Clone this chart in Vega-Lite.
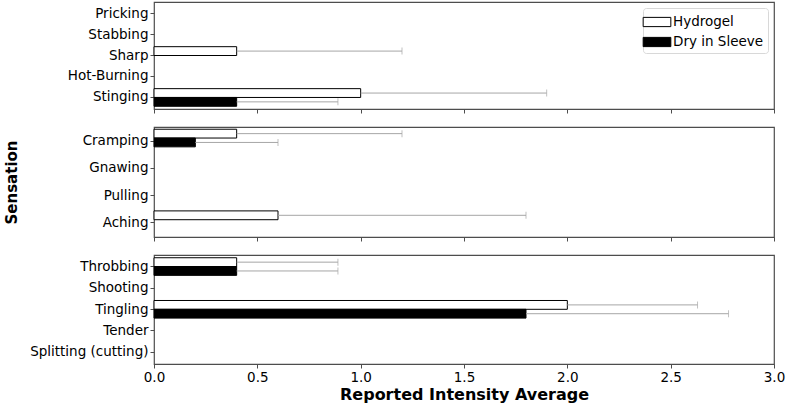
{
  "$schema": "https://vega.github.io/schema/vega-lite/v6.json",
  "padding": {"left": 3, "top": 1, "right": 10, "bottom": 4},
  "background": "white",
  "bounds": "flush",
  "spacing": 18,
  "config": {
    "font": "DejaVu Sans",
    "view": {"stroke": "#4d4d4d", "strokeWidth": 1.2},
    "axis": {
      "grid": false,
      "domain": false,
      "tickColor": "#4d4d4d",
      "tickSize": 4,
      "labelColor": "black",
      "labelFontSize": 13.5,
      "labelPadding": 2,
      "labelFlush": false,
      "titleColor": "black",
      "titleFontWeight": "bold",
      "titleFontSize": 15
    }
  },
  "datasets": {
    "d": [
      {"panel": 1, "sensation": "Pricking", "series": "Hydrogel", "value": 0, "upper": null},
      {"panel": 1, "sensation": "Pricking", "series": "Dry in Sleeve", "value": 0, "upper": null},
      {"panel": 1, "sensation": "Stabbing", "series": "Hydrogel", "value": 0, "upper": null},
      {"panel": 1, "sensation": "Stabbing", "series": "Dry in Sleeve", "value": 0, "upper": null},
      {"panel": 1, "sensation": "Sharp", "series": "Hydrogel", "value": 0.4, "upper": 1.2},
      {"panel": 1, "sensation": "Sharp", "series": "Dry in Sleeve", "value": 0, "upper": null},
      {"panel": 1, "sensation": "Hot-Burning", "series": "Hydrogel", "value": 0, "upper": null},
      {"panel": 1, "sensation": "Hot-Burning", "series": "Dry in Sleeve", "value": 0, "upper": null},
      {"panel": 1, "sensation": "Stinging", "series": "Hydrogel", "value": 1.0, "upper": 1.9},
      {"panel": 1, "sensation": "Stinging", "series": "Dry in Sleeve", "value": 0.4, "upper": 0.89},
      {"panel": 2, "sensation": "Cramping", "series": "Hydrogel", "value": 0.4, "upper": 1.2},
      {"panel": 2, "sensation": "Cramping", "series": "Dry in Sleeve", "value": 0.2, "upper": 0.6},
      {"panel": 2, "sensation": "Gnawing", "series": "Hydrogel", "value": 0, "upper": null},
      {"panel": 2, "sensation": "Gnawing", "series": "Dry in Sleeve", "value": 0, "upper": null},
      {"panel": 2, "sensation": "Pulling", "series": "Hydrogel", "value": 0, "upper": null},
      {"panel": 2, "sensation": "Pulling", "series": "Dry in Sleeve", "value": 0, "upper": null},
      {"panel": 2, "sensation": "Aching", "series": "Hydrogel", "value": 0.6, "upper": 1.8},
      {"panel": 2, "sensation": "Aching", "series": "Dry in Sleeve", "value": 0, "upper": null},
      {"panel": 3, "sensation": "Throbbing", "series": "Hydrogel", "value": 0.4, "upper": 0.89},
      {"panel": 3, "sensation": "Throbbing", "series": "Dry in Sleeve", "value": 0.4, "upper": 0.89},
      {"panel": 3, "sensation": "Shooting", "series": "Hydrogel", "value": 0, "upper": null},
      {"panel": 3, "sensation": "Shooting", "series": "Dry in Sleeve", "value": 0, "upper": null},
      {"panel": 3, "sensation": "Tingling", "series": "Hydrogel", "value": 2.0, "upper": 2.63},
      {"panel": 3, "sensation": "Tingling", "series": "Dry in Sleeve", "value": 1.8, "upper": 2.78},
      {"panel": 3, "sensation": "Tender", "series": "Hydrogel", "value": 0, "upper": null},
      {"panel": 3, "sensation": "Tender", "series": "Dry in Sleeve", "value": 0, "upper": null},
      {"panel": 3, "sensation": "Splitting (cutting)", "series": "Hydrogel", "value": 0, "upper": null},
      {"panel": 3, "sensation": "Splitting (cutting)", "series": "Dry in Sleeve", "value": 0, "upper": null}
    ]
  },
  "resolve": {"scale": {"fill": "independent"}, "legend": {"fill": "independent"}},
  "vconcat": [
    {
      "width": 620,
      "height": 107,
      "data": {"name": "d"},
      "transform": [{"filter": "datum.panel == 1"}],
      "encoding": {
        "y": {"field": "sensation", "type": "nominal",
              "scale": {"domain": ["Pricking", "Stabbing", "Sharp", "Hot-Burning", "Stinging"], "paddingInner": 0, "paddingOuter": 0.05},
              "axis": {"title": null}},
        "yOffset": {"field": "series", "type": "nominal",
                    "scale": {"domain": ["Hydrogel", "Dry in Sleeve"], "paddingInner": 0, "paddingOuter": 0.19}}
      },
      "layer": [
        {
          "transform": [{"filter": "datum.value > 0"}],
          "mark": {"type": "bar", "stroke": "black", "strokeWidth": 1},
          "encoding": {
            "x": {"field": "value", "type": "quantitative", "scale": {"domain": [0, 3]},
                  "axis": {"title": null, "labels": false, "values": [0, 0.5, 1, 1.5, 2, 2.5, 3]}},
            "fill": {"field": "series", "type": "nominal",
                     "scale": {"domain": ["Hydrogel", "Dry in Sleeve"], "range": ["white", "black"]},
                     "legend": {"title": null, "orient": "top-right", "offset": 6,
                                "symbolType": "M-1.5,-0.5H1.5V0.5H-1.5Z", "symbolSize": 340,
                                "symbolStrokeColor": "black", "symbolStrokeWidth": 1,
                                "labelFontSize": 13.5, "labelColor": "black", "labelOffset": 6,
                                "rowPadding": 3, "padding": 4, "strokeColor": "#d8d8d8",
                                "fillColor": "white", "cornerRadius": 3}}
          }
        },
        {
          "transform": [{"filter": "datum.upper != null"}],
          "mark": {"type": "rule", "color": "#a6a6a6", "strokeWidth": 1},
          "encoding": {"x": {"field": "value", "type": "quantitative"}, "x2": {"field": "upper"}}
        },
        {
          "transform": [{"filter": "datum.upper != null"}],
          "mark": {"type": "tick", "color": "#a6a6a6", "orient": "vertical", "size": 7, "thickness": 1},
          "encoding": {"x": {"field": "upper", "type": "quantitative"}}
        }
      ]
    },
    {
      "width": 620,
      "height": 110,
      "data": {"name": "d"},
      "transform": [{"filter": "datum.panel == 2"}],
      "encoding": {
        "y": {"field": "sensation", "type": "nominal",
              "scale": {"domain": ["Cramping", "Gnawing", "Pulling", "Aching"], "paddingInner": 0, "paddingOuter": 0.02},
              "axis": {"title": "Sensation", "titleX": -143, "titleY": 55, "titleAngle": 270, "titleAlign": "center", "titleBaseline": "middle"}},
        "yOffset": {"field": "series", "type": "nominal",
                    "scale": {"domain": ["Hydrogel", "Dry in Sleeve"], "paddingInner": 0, "paddingOuter": 0.19}}
      },
      "layer": [
        {
          "transform": [{"filter": "datum.value > 0"}],
          "mark": {"type": "bar", "stroke": "black", "strokeWidth": 1},
          "encoding": {
            "x": {"field": "value", "type": "quantitative", "scale": {"domain": [0, 3]},
                  "axis": {"title": null, "labels": false, "values": [0, 0.5, 1, 1.5, 2, 2.5, 3]}},
            "fill": {"field": "series", "type": "nominal",
                     "scale": {"domain": ["Hydrogel", "Dry in Sleeve"], "range": ["white", "black"]},
                     "legend": null}
          }
        },
        {
          "transform": [{"filter": "datum.upper != null"}],
          "mark": {"type": "rule", "color": "#a6a6a6", "strokeWidth": 1},
          "encoding": {"x": {"field": "value", "type": "quantitative"}, "x2": {"field": "upper"}}
        },
        {
          "transform": [{"filter": "datum.upper != null"}],
          "mark": {"type": "tick", "color": "#a6a6a6", "orient": "vertical", "size": 7, "thickness": 1},
          "encoding": {"x": {"field": "upper", "type": "quantitative"}}
        }
      ]
    },
    {
      "width": 620,
      "height": 109,
      "data": {"name": "d"},
      "transform": [{"filter": "datum.panel == 3"}],
      "encoding": {
        "y": {"field": "sensation", "type": "nominal",
              "scale": {"domain": ["Throbbing", "Shooting", "Tingling", "Tender", "Splitting (cutting)"], "paddingInner": 0, "paddingOuter": 0.05},
              "axis": {"title": null}},
        "yOffset": {"field": "series", "type": "nominal",
                    "scale": {"domain": ["Hydrogel", "Dry in Sleeve"], "paddingInner": 0, "paddingOuter": 0.19}}
      },
      "layer": [
        {
          "transform": [{"filter": "datum.value > 0"}],
          "mark": {"type": "bar", "stroke": "black", "strokeWidth": 1},
          "encoding": {
            "x": {"field": "value", "type": "quantitative", "scale": {"domain": [0, 3]},
                  "axis": {"title": "Reported Intensity Average", "titleFontSize": 16, "format": ".1f", "values": [0, 0.5, 1, 1.5, 2, 2.5, 3], "titlePadding": 3}},
            "fill": {"field": "series", "type": "nominal",
                     "scale": {"domain": ["Hydrogel", "Dry in Sleeve"], "range": ["white", "black"]},
                     "legend": null}
          }
        },
        {
          "transform": [{"filter": "datum.upper != null"}],
          "mark": {"type": "rule", "color": "#a6a6a6", "strokeWidth": 1},
          "encoding": {"x": {"field": "value", "type": "quantitative"}, "x2": {"field": "upper"}}
        },
        {
          "transform": [{"filter": "datum.upper != null"}],
          "mark": {"type": "tick", "color": "#a6a6a6", "orient": "vertical", "size": 7, "thickness": 1},
          "encoding": {"x": {"field": "upper", "type": "quantitative"}}
        }
      ]
    }
  ]
}
